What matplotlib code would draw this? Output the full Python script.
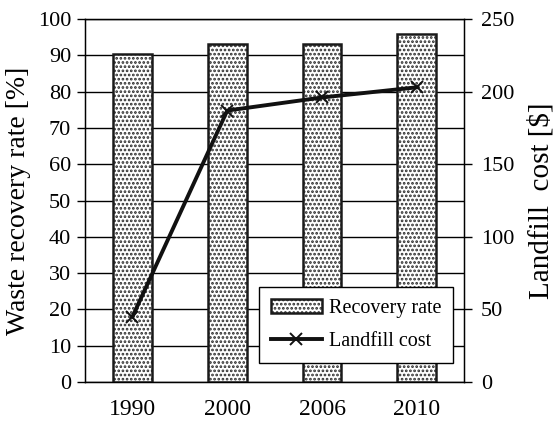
import matplotlib

matplotlib.use("Agg")
import matplotlib.pyplot as plt
import numpy as np

years = ["1990", "2000", "2006", "2010"]
recovery_rate = [90.3, 93.0, 93.0, 96.0]      # % (left axis)
landfill_cost = [45, 187, 196, 203]           # $ (right axis)

plt.rcParams["font.family"] = ["Liberation Serif", "DejaVu Serif"]
plt.rcParams["hatch.linewidth"] = 1.3
plt.rcParams["hatch.color"] = "#2a2a2a"

fig = plt.figure(figsize=(5.56, 4.24), dpi=100)
ax = fig.add_axes([0.153, 0.099, 0.682, 0.856])
x = np.arange(len(years))

ax.set_axisbelow(True)
ax.grid(axis="y", color="black", linewidth=1.0)
# dotted fill (hatch colour comes from rcParams since no edgecolor given)
fill = ax.bar(x, recovery_rate, width=0.41, facecolor="white",
              hatch="....", linewidth=0, zorder=2)
outline = ax.bar(x, recovery_rate, width=0.41, fill=False, edgecolor="#1a1a1a",
                 linewidth=1.8, zorder=3)

ax.set_xlim(-0.5, len(years) - 0.5)
ax.set_ylim(0, 100)
ax.set_yticks(np.arange(0, 101, 10))
ax.set_xticks(x)
ax.set_xticklabels(years)
ax.tick_params(axis="x", length=0, pad=12, labelsize=17)
ax.tick_params(axis="y", direction="out", length=6, width=1.0, labelsize=16, pad=4)
ax.set_ylabel("Waste recovery rate [%]", fontsize=20, labelpad=5)
for s in ax.spines.values():
    s.set_linewidth(1.0)

ax2 = ax.twinx()
line, = ax2.plot(x, landfill_cost, color="#111111", linewidth=2.8, marker="x",
                 markersize=9, markeredgewidth=1.4, label="Landfill cost")
ax2.set_ylim(0, 250)
ax2.set_yticks(np.arange(0, 251, 50))
ax2.tick_params(axis="y", direction="out", length=6, width=1.0, labelsize=16, pad=6)
ax2.set_ylabel("Landfill  cost [$]", fontsize=21, labelpad=10)

leg = ax2.legend([(fill, outline), line], ["Recovery rate", "Landfill cost"],
                 loc="lower right", bbox_to_anchor=(0.971, 0.052), borderaxespad=0,
                 fontsize=14.5, fancybox=False, framealpha=1, edgecolor="black",
                 handlelength=2.5, handletextpad=0.35, labelspacing=0.7,
                 borderpad=0.6)
leg.get_frame().set_linewidth(1.0)

fig.savefig("out.png", dpi=100)
